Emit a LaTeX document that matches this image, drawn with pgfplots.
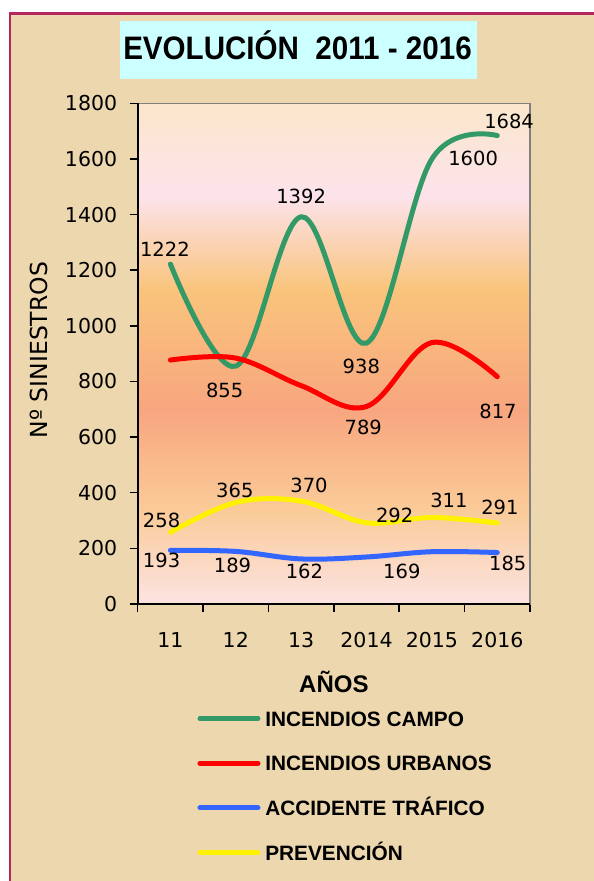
\documentclass[border=0pt]{standalone}
\usepackage{fontspec}
\setmainfont{DejaVu Sans}
\newfontfamily\arialf{Liberation Sans}
\newfontfamily\arialT{Liberation Sans}[FakeStretch=0.91]
\usepackage{pgfplots}
\pgfplotsset{compat=1.18}

\definecolor{parch}{HTML}{EDD7AE}
\definecolor{maroonb}{HTML}{B3265E}
\definecolor{titlebg}{HTML}{CCFFFF}
\definecolor{cT}{HTML}{FBE7CC}
\definecolor{cPink}{HTML}{FCE3EB}
\definecolor{cOr}{HTML}{F9C47C}
\definecolor{cSal}{HTML}{F8A67F}
\definecolor{cPe}{HTML}{FACB98}
\definecolor{cB}{HTML}{FCE3E3}
\definecolor{gr}{HTML}{339966}
\definecolor{bl}{HTML}{3366FF}

\pgfdeclareverticalshading{plotbg}{100bp}{color(0bp)=(cB); color(25bp)=(cB); color(34.4bp)=(cPe); color(44.4bp)=(cSal); color(56.4bp)=(cOr); color(65.7bp)=(cPink); color(75bp)=(cT); color(100bp)=(cT)}

\newcommand\lab{\fontsize{19.5}{19.5}\selectfont}
\newcommand\tlab{\fontsize{20.5}{20.5}\selectfont}

\begin{document}
\begin{tikzpicture}
\useasboundingbox (0,0) rectangle (594pt,881pt);
\fill[white] (0,0) rectangle (594pt,881pt);
\fill[parch] (9.5pt,0) rectangle (594pt,867.5pt);
\draw[maroonb, line width=2.5pt] (10pt,0) -- (10pt,867.3pt) -- (594pt,867.3pt);
\fill[titlebg] (120pt,801.7pt) rectangle (476.7pt,860.3pt);
\node[anchor=base, inner sep=0pt, font=\arialT\bfseries\fontsize{32.5}{32.5}\selectfont] at (297.5pt,821pt) {EVOLUCIÓN\ \ 2011 - 2016};

\begin{axis}[
  at={(137.7pt,277pt)}, anchor=south west,
  scale only axis, width=392.3pt, height=500.7pt,
  xmin=-0.5, xmax=5.5, ymin=0, ymax=1800,
  clip=false,
  axis background/.style={shade, shading=plotbg},
  xtick={-0.5,0.5,1.5,2.5,3.5,4.5,5.5}, xticklabels={},
  extra x ticks={0,1,2,3,4,5},
  extra x tick labels={11,12,13,2014,2015,2016},
  extra x tick style={major tick length=0pt, xticklabel style={yshift=-25pt}},
  ytick={0,200,...,1800},
  xtick pos=bottom, ytick pos=left,
  tick align=outside,
  major tick length=8pt,
  tick style={black, line width=1.5pt},
  axis line style={draw=gray, line width=1.5pt},
  tick label style={font=\tlab},
  yticklabel style={xshift=-9pt},
  /pgf/number format/assume math mode=true,
  /pgf/number format/1000 sep={},
  xlabel={AÑOS},
  xlabel style={at={(axis description cs:0.5,-0.177)}, anchor=base, inner sep=0pt, font=\arialf\bfseries\fontsize{24}{24}\selectfont},
  ylabel={Nº SINIESTROS},
  ylabel style={at={(axis description cs:-0.2304,0.507)}, anchor=base, inner sep=0pt, rotate=0, font=\fontsize{23.5}{23.5}\selectfont},
  every axis plot/.append style={line width=5pt, line cap=round, smooth, tension=0.6, mark=none},
  legend image code/.code={\draw[#1, line width=5pt, line cap=round] (0pt,0pt) -- (58pt,0pt);},
  legend cell align=left,
  legend style={at={(axis description cs:0.1524,-0.2137)}, anchor=north west, draw=none, fill=none, inner sep=0pt, outer sep=0pt,
    font=\arialf\bfseries\fontsize{20.8}{20.8}\selectfont, row sep=29.7pt, column sep=4.8pt,
    nodes={inner sep=0pt, text height=15pt, text depth=0pt}},
]
\addplot[gr] coordinates {(0,1222) (1,855) (2,1392) (3,938) (4,1600) (5,1684)};
\addlegendentry{INCENDIOS CAMPO}
\addplot[red] coordinates {(0,877) (1,884) (2,785) (3,710) (4,940) (5,817)};
\addlegendentry{INCENDIOS URBANOS}
\addplot[bl] coordinates {(0,193) (1,189) (2,162) (3,169) (4,188) (5,185)};
\addlegendentry{ACCIDENTE TRÁFICO}
\addplot[yellow] coordinates {(0,258) (1,365) (2,370) (3,292) (4,311) (5,291)};
\addlegendentry{PREVENCIÓN}

\draw[black, line width=2pt] (rel axis cs:0,1) -- (rel axis cs:0,0) -- (rel axis cs:1,0);

\begin{scope}[every node/.style={font=\lab, inner sep=0pt, anchor=center}]
\node at (axis cs:-0.084,1276) {1222};
\node at (axis cs:2.0,1466) {1392};
\node at (axis cs:5.18,1734) {1684};
\node at (axis cs:4.63,1602) {1600};
\node at (axis cs:2.92,855) {938};
\node at (axis cs:0.83,769) {855};
\node at (axis cs:2.95,635) {789};
\node at (axis cs:5.01,691) {817};
\node at (axis cs:-0.135,299) {258};
\node at (axis cs:0.986,407) {365};
\node at (axis cs:2.12,428) {370};
\node at (axis cs:3.43,320) {292};
\node at (axis cs:4.26,371) {311};
\node at (axis cs:5.04,348) {291};
\node at (axis cs:-0.135,156) {193};
\node at (axis cs:0.95,140) {189};
\node at (axis cs:2.05,116) {162};
\node at (axis cs:3.54,116) {169};
\node at (axis cs:5.16,146) {185};
\end{scope}
\end{axis}
\end{tikzpicture}
\end{document}
